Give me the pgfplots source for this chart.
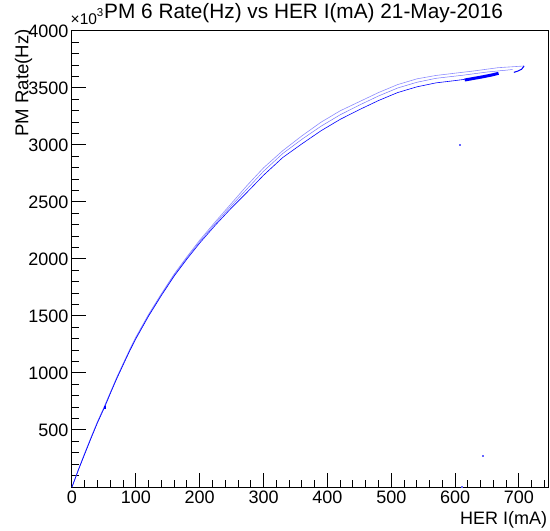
\documentclass[border=0pt]{standalone}
\usepackage{pgfplots}
\pgfplotsset{compat=1.18}
\usepackage{pgfplotstable}
\usepackage{fontspec}
\setmainfont{Liberation Sans}
\pgfplotstableread{
x y
0 0
10 150
20 290
30 430
40 565
51 699
60 820
70 950
80 1070
90 1190
100 1300
120 1500
140 1680
160 1850
180 2000
200 2140
225 2300
250 2450
275 2590
300 2735
330 2890
360 3010
390 3125
420 3225
450 3310
480 3390
510 3460
540 3510
570 3545
600 3565
620 3580
}\strandLow
\pgfplotstableread{
x y
0 0
10 155
20 300
30 440
40 575
51 710
60 830
70 962
80 1082
90 1202
100 1315
120 1515
140 1695
160 1868
180 2020
200 2165
225 2330
250 2490
275 2650
300 2800
330 2950
360 3080
390 3200
420 3300
450 3380
480 3460
510 3530
540 3580
570 3610
600 3630
630 3650
667 3678
708 3693
}\strandUpA
\pgfplotstableread{
x y
0 0
20 295
40 570
60 825
80 1076
100 1308
120 1508
140 1688
160 1860
180 2010
200 2152
225 2315
250 2470
275 2620
300 2770
330 2925
360 3050
390 3165
420 3265
450 3350
480 3430
510 3500
540 3550
570 3585
612 3612
650 3640
690 3662
}\strandUpB
\pgfplotstableread{
x y
615 3570
630 3585
645 3600
658 3615
668 3629
}\strandBlob
\pgfplotstableread{
x y
692 3637
698 3648
704 3664
708 3693
}\strandHook
\pgfplotstableread{
x y
607.6 3006
643.6 272
610.7 0
}\strayPts
\pgfplotstableread{
x y
51 699
}\darkDot
\begin{document}
\begin{tikzpicture}
\useasboundingbox (-72pt,-44pt) rectangle (478pt,487pt);
\begin{axis}[
 at={(0,0)}, anchor=south west,
 scale only axis, width=477pt, height=456pt,
 xmin=0, xmax=747, ymin=0, ymax=4000,
 axis line style={line width=1pt},
 xtick={0,100,...,700}, minor xtick={20,40,...,740},
 ytick={500,1000,...,4000}, minor ytick={100,200,...,3900},
 xtick pos=left, ytick pos=left,
 tick align=inside,
 major tick length=14pt, minor tick length=7pt,
 every tick/.style={black, line width=1pt},
 ticklabel style={font=\fontsize{18}{20}\selectfont},
 /pgf/number format/assume math mode=true,
 scaled ticks=false,
 /pgf/number format/1000 sep={},
]
\addplot[blue!45, line width=0.6pt] table[x=x,y=y] {\strandUpA};
\addplot[blue!55, line width=0.5pt] table[x=x,y=y] {\strandUpB};
\addplot[blue, line width=0.6pt] table[x=x,y=y] {\strandLow};
\addplot[blue, line width=3pt] table[x=x,y=y] {\strandBlob};
\addplot[blue, line width=1pt] table[x=x,y=y] {\strandHook};
\addplot[blue!60, only marks, mark=square*, mark size=0.45pt] table[x=x,y=y] {\strayPts};
\addplot[blue, only marks, mark=square*, mark size=0.8pt] table[x=x,y=y] {\darkDot};
\end{axis}
\node[anchor=base west, inner sep=0, font=\fontsize{20.8}{23}\selectfont] at (32pt,468.5pt) {PM 6 Rate(Hz) vs HER I(mA) 21-May-2016};
\node[anchor=base west, inner sep=0] at (-1.5pt,462pt) {{\fontsize{15.5}{16}\selectfont ×10}{\fontsize{11.5}{12}\selectfont\raisebox{8pt}{3}}};
\node[anchor=base east, inner sep=0, rotate=90, font=\fontsize{18.6}{20}\selectfont] at (-43.7pt,458pt) {PM Rate(Hz)};
\node[anchor=base east, inner sep=0, font=\fontsize{18}{20}\selectfont] at (475.3pt,-37pt) {HER I(mA)};
\end{tikzpicture}
\end{document}
